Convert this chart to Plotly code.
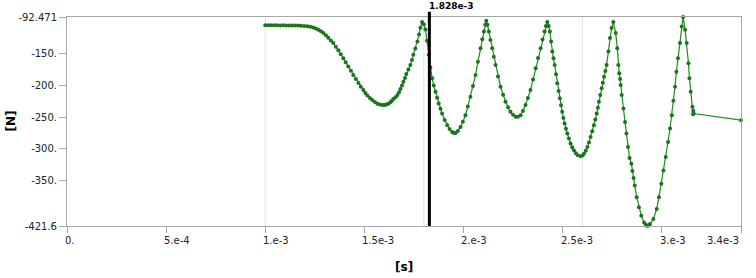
import plotly.graph_objects as go

# ---- data (time in ms, force in N) ----
time_ms = [
    1.000, 1.015, 1.030, 1.045, 1.060, 1.075, 1.090, 1.105, 1.120, 1.135,
    1.150, 1.165, 1.180, 1.196, 1.212, 1.227, 1.242, 1.255, 1.268, 1.281,
    1.293, 1.306, 1.318, 1.331, 1.343, 1.356, 1.369, 1.381, 1.394, 1.406,
    1.419, 1.432, 1.444, 1.457, 1.470, 1.482, 1.495, 1.505, 1.515, 1.528,
    1.540, 1.553, 1.566, 1.578, 1.591, 1.601, 1.611, 1.621, 1.631, 1.639,
    1.646, 1.657, 1.667, 1.675, 1.682, 1.690, 1.697, 1.705, 1.712, 1.722,
    1.732, 1.740, 1.747, 1.757, 1.768, 1.776, 1.783, 1.791, 1.800, 1.808,
    1.816, 1.825, 1.833, 1.842, 1.850, 1.859, 1.867, 1.875, 1.884, 1.892,
    1.905, 1.918, 1.930, 1.943, 1.952, 1.960, 1.972, 1.985, 1.997, 2.010,
    2.022, 2.035, 2.048, 2.061, 2.073, 2.086, 2.095, 2.103, 2.110, 2.115,
    2.121, 2.128, 2.136, 2.145, 2.153, 2.162, 2.174, 2.187, 2.200, 2.212,
    2.225, 2.237, 2.250, 2.263, 2.275, 2.288, 2.300, 2.313, 2.325, 2.338,
    2.351, 2.364, 2.376, 2.389, 2.399, 2.409, 2.416, 2.423, 2.430, 2.436,
    2.442, 2.448, 2.454, 2.460, 2.467, 2.473, 2.480, 2.486, 2.492, 2.498,
    2.504, 2.510, 2.517, 2.524, 2.532, 2.540, 2.548, 2.557, 2.567, 2.577,
    2.591, 2.600, 2.608, 2.617, 2.625, 2.633, 2.641, 2.650, 2.658, 2.665,
    2.672, 2.678, 2.683, 2.690, 2.697, 2.703, 2.709, 2.716, 2.722, 2.731,
    2.739, 2.747, 2.756, 2.768, 2.776, 2.781, 2.786, 2.790, 2.793, 2.798,
    2.807, 2.815, 2.822, 2.830, 2.838, 2.847, 2.852, 2.858, 2.864, 2.874,
    2.885, 2.897, 2.911, 2.920, 2.928, 2.935, 2.941, 2.958, 2.975, 2.986,
    2.998, 3.009, 3.020, 3.032, 3.042, 3.051, 3.059, 3.067, 3.074, 3.082,
    3.092, 3.101, 3.108, 3.118, 3.126, 3.135, 3.140, 3.146, 3.155, 3.158,
    3.159, 3.161, 3.400,
]
force_N = [
    -105.6, -105.4, -105.5, -105.3, -105.6, -105.7, -105.6, -105.8, -105.8, -105.9,
    -105.9, -106.0, -106.2, -106.6, -107.2, -108.0, -108.9, -110.5, -112.6, -115.0,
    -117.8, -121.3, -125.2, -129.3, -133.6, -139.2, -145.0, -151.2, -157.4, -163.9,
    -170.3, -177.0, -183.8, -190.2, -196.4, -202.2, -207.5, -212.0, -216.2, -220.0,
    -223.3, -226.3, -228.9, -230.4, -231.2, -231.2, -230.4, -228.9, -226.9, -224.5,
    -221.7, -218.8, -215.4, -211.0, -205.9, -200.5, -194.4, -188.5, -182.2, -175.0,
    -167.9, -160.0, -152.1, -142.0, -131.1, -120.0, -109.4, -100.4, -104.0, -112.0,
    -130.0, -152.1, -172.0, -189.0, -200.5, -210.2, -219.8, -228.5, -236.8, -244.4,
    -254.5, -262.9, -269.0, -273.5, -275.0, -275.1, -271.8, -265.6, -257.5, -247.1,
    -233.5, -218.1, -201.2, -183.8, -163.0, -141.5, -127.5, -115.3, -104.5, -98.3,
    -104.8, -115.3, -128.5, -141.5, -155.0, -167.9, -186.0, -202.3, -215.0, -226.0,
    -234.5, -241.8, -246.5, -249.7, -249.6, -247.1, -240.5, -231.2, -220.0, -207.5,
    -191.0, -173.2, -157.0, -141.5, -128.0, -115.3, -106.5, -100.4, -106.5, -115.3,
    -131.0, -146.9, -157.5, -167.9, -182.5, -196.9, -209.0, -220.6, -231.5, -241.8,
    -251.5, -260.2, -268.5, -276.0, -284.0, -291.8, -297.5, -302.4, -307.0, -310.3,
    -311.9, -310.5, -307.7, -303.0, -297.2, -290.0, -281.4, -272.5, -262.9, -254.0,
    -244.4, -235.5, -226.0, -215.5, -204.8, -196.0, -186.5, -177.5, -167.9, -146.9,
    -125.7, -109.9, -100.4, -117.8, -141.5, -167.9, -181.1, -190.0, -199.6, -215.4,
    -236.5, -257.7, -276.0, -297.2, -314.6, -323.5, -335.0, -346.0, -357.8, -376.3,
    -392.2, -405.3, -415.9, -419.8, -421.6, -420.5, -418.4, -410.5, -394.7, -376.3,
    -355.1, -334.1, -313.0, -289.3, -268.1, -247.1, -224.4, -202.3, -178.6, -157.4,
    -133.6, -107.3, -92.471, -112.6, -133.6, -165.3, -189.0, -210.2, -233.9, -245.5,
    -240.3, -244.5, -255.0,
]
time_s = [t * 1e-3 for t in time_ms]

x_tick_vals = [0.0, 5e-4, 1e-3, 1.5e-3, 2e-3, 2.5e-3, 3e-3, 3.4e-3]
x_tick_text = ["0.", "5.e-4", "1.e-3", "1.5e-3", "2.e-3", "2.5e-3", "3.e-3", "3.4e-3"]
y_tick_vals = [-92.471, -150, -200, -250, -300, -350, -421.6]
y_tick_text = ["-92.471", "-150.", "-200.", "-250.", "-300.", "-350.", "-421.6"]
x_grid_vals = [1.0e-3, 1.8e-3, 2.6e-3]
cursor_x = 1.828e-3
cursor_label = "1.828e-3"
x_title = "[s]"
y_title = "[N]"

x_range = [0.0, 3.4e-3]
y_range = [-421.6, -92.471]

AXIS_GRAY = "#a8a8a8"
FONT = "DejaVu Sans"

fig = go.Figure()
fig.add_trace(go.Scatter(
    x=time_s, y=force_N, mode="lines+markers",
    line=dict(color="#1e8c1e", width=1.2),
    marker=dict(color="#1b741b", size=4, symbol="circle"),
    showlegend=False, cliponaxis=False,
))

shapes = []
for gx in x_grid_vals:
    shapes.append(dict(type="line", xref="x", yref="paper", x0=gx, x1=gx, y0=0, y1=1,
                       line=dict(color="#e2e2e2", width=1), layer="below"))
shapes.append(dict(type="line", xref="x", yref="paper", x0=cursor_x, x1=cursor_x,
                   y0=0, y1=1.025, line=dict(color="black", width=3), layer="above"))

annotations = []
for i, (tv, tt) in enumerate(zip(x_tick_vals, x_tick_text)):
    last = i == len(x_tick_vals) - 1
    annotations.append(dict(
        x=tv, xref="x", y=0, yref="paper", text=tt, showarrow=False,
        xanchor="right" if last else "left", yanchor="top",
        xshift=0 if last else -4, yshift=-7,
        font=dict(family=FONT, size=10, color="#222222"),
    ))
annotations.append(dict(
    x=cursor_x, xref="x", y=1, yref="paper", text="<b>" + cursor_label + "</b>",
    showarrow=False, xanchor="left", yanchor="middle", xshift=-2, yshift=11,
    font=dict(family=FONT, size=9, color="black"),
))
annotations.append(dict(
    x=0, xref="paper", y=0.5, yref="paper", text="<b>" + y_title + "</b>",
    showarrow=False, xanchor="center", yanchor="middle", xshift=-57, textangle=-90,
    font=dict(family=FONT, size=12, color="black"),
))
annotations.append(dict(
    x=0.5, xref="paper", y=0, yref="paper", text="<b>" + x_title + "</b>",
    showarrow=False, xanchor="center", yanchor="middle", yshift=-41,
    font=dict(family=FONT, size=12, color="black"),
))

fig.update_layout(
    width=756, height=278,
    margin=dict(l=67, r=15, t=17, b=52),
    paper_bgcolor="white", plot_bgcolor="white",
    font=dict(family=FONT, size=10, color="#222222"),
    shapes=shapes, annotations=annotations,
    xaxis=dict(
        range=x_range, tickmode="array", tickvals=x_tick_vals, showticklabels=False,
        ticks="outside", ticklen=6, tickcolor=AXIS_GRAY, showgrid=False,
        showline=True, linecolor=AXIS_GRAY, linewidth=1, mirror=True, zeroline=False,
    ),
    yaxis=dict(
        range=y_range, tickmode="array", tickvals=y_tick_vals, ticktext=y_tick_text,
        ticks="outside", ticklen=7, tickcolor=AXIS_GRAY, showgrid=False,
        showline=True, linecolor=AXIS_GRAY, linewidth=1, mirror=True, zeroline=False,
        tickfont=dict(family=FONT, size=10, color="#222222"),
    ),
)

fig.write_html("out.html")
